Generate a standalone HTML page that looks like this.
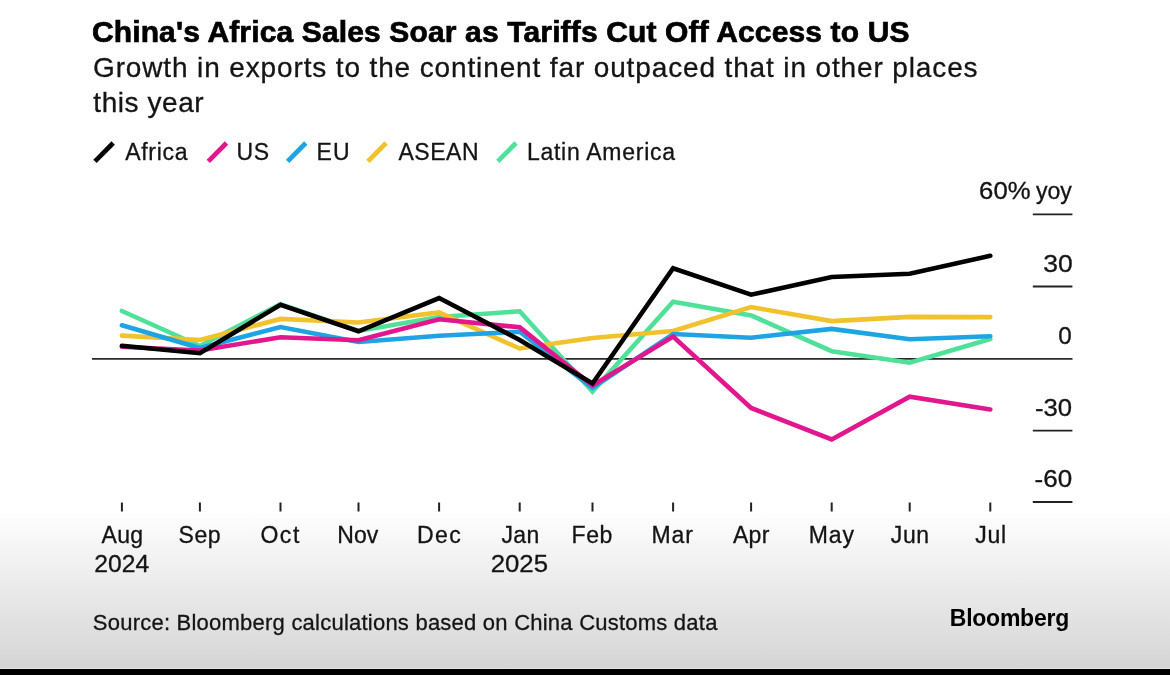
<!DOCTYPE html>
<html><head><meta charset="utf-8"><title>China's Africa Sales Soar as Tariffs Cut Off Access to US</title>
<style>
html,body{margin:0;padding:0;background:#fff;}
body{width:1170px;height:675px;overflow:hidden;position:relative;}
svg{display:block;position:absolute;left:0;top:0;}
text{font-family:"Liberation Sans",Arial,sans-serif;}
</style></head><body>
<svg width="1170" height="675" viewBox="0 0 1170 675">
<defs>
<linearGradient id="bg" x1="0" y1="0" x2="0" y2="1">
<stop offset="0" stop-color="#ffffff"/>
<stop offset="1" stop-color="#d5d5d5"/>
</linearGradient>
</defs>
<rect x="0" y="0" width="1170" height="675" fill="#fff"/>
<rect x="0" y="509" width="1170" height="159" fill="url(#bg)"/>
<rect x="0" y="668" width="1170" height="1" fill="#e3e3e3"/>
<rect x="0" y="669" width="1170" height="6" fill="#000"/>
<g stroke-width="4.7" stroke-linecap="butt"><line x1="95.0" y1="161.3" x2="113.2" y2="143.0" stroke="#000000"/><line x1="208.3" y1="161.3" x2="226.5" y2="143.0" stroke="#e2168d"/><line x1="287.6" y1="161.3" x2="305.8" y2="143.0" stroke="#1ea4e4"/><line x1="367.9" y1="161.3" x2="386.1" y2="143.0" stroke="#f1c22b"/><line x1="497.8" y1="161.3" x2="516.0" y2="143.0" stroke="#4fe09a"/></g>
<g stroke="#222" stroke-width="1.8"><line x1="1032.8" y1="214.3" x2="1072.4" y2="214.3"/><line x1="1032.8" y1="286.5" x2="1072.4" y2="286.5"/><line x1="1032.8" y1="430.6" x2="1072.4" y2="430.6"/><line x1="1032.8" y1="502.0" x2="1072.4" y2="502.0"/></g>
<line x1="92" y1="358.8" x2="1072.5" y2="358.8" stroke="#2a2a2a" stroke-width="1.8"/>
<g fill="none" stroke-width="4.6" stroke-linejoin="miter" stroke-linecap="round">
<polyline points="121.9,311.0 199.9,346.0 280.5,304.2 358.5,331.0 439.1,317.0 519.7,311.3 592.5,391.5 673.1,301.7 751.1,315.4 831.7,351.2 909.7,362.7 990.3,339.0" stroke="#4fe09a"/>
<polyline points="121.9,335.6 199.9,340.0 280.5,318.9 358.5,322.5 439.1,312.4 519.7,348.5 592.5,338.0 673.1,331.0 751.1,307.1 831.7,321.1 909.7,316.9 990.3,317.1" stroke="#f1c22b"/>
<polyline points="121.9,325.3 199.9,348.0 280.5,327.1 358.5,342.0 439.1,335.8 519.7,331.8 592.5,388.0 673.1,334.0 751.1,337.7 831.7,328.9 909.7,339.3 990.3,336.2" stroke="#1ea4e4"/>
<polyline points="121.9,346.8 199.9,350.5 280.5,337.2 358.5,340.2 439.1,319.3 519.7,327.3 592.5,385.5 673.1,336.6 751.1,408.0 831.7,439.5 909.7,396.7 990.3,409.5" stroke="#e2168d"/>
<polyline points="121.9,345.8 199.9,353.2 280.5,304.7 358.5,331.3 439.1,298.0 519.7,340.0 592.5,383.5 673.1,268.3 751.1,294.7 831.7,277.0 909.7,273.8 990.3,255.8" stroke="#000000"/>
</g>
<g stroke="#222" stroke-width="2"><line x1="121.9" y1="502.5" x2="121.9" y2="511.5"/><line x1="199.9" y1="502.5" x2="199.9" y2="511.5"/><line x1="280.5" y1="502.5" x2="280.5" y2="511.5"/><line x1="358.5" y1="502.5" x2="358.5" y2="511.5"/><line x1="439.1" y1="502.5" x2="439.1" y2="511.5"/><line x1="519.7" y1="502.5" x2="519.7" y2="511.5"/><line x1="592.5" y1="502.5" x2="592.5" y2="511.5"/><line x1="673.1" y1="502.5" x2="673.1" y2="511.5"/><line x1="751.1" y1="502.5" x2="751.1" y2="511.5"/><line x1="831.7" y1="502.5" x2="831.7" y2="511.5"/><line x1="909.7" y1="502.5" x2="909.7" y2="511.5"/><line x1="990.3" y1="502.5" x2="990.3" y2="511.5"/></g>
<text x="91.90" y="42.0" textLength="817.60" lengthAdjust="spacing" style="font-size:30px;font-weight:bold;fill:#000;stroke:#000;stroke-width:0.7px">China's Africa Sales Soar as Tariffs Cut Off Access to US</text>
<text x="93.00" y="77.1" textLength="884.60" lengthAdjust="spacing" style="font-size:28px;font-weight:normal;fill:#141414;stroke:#141414;stroke-width:0.3px">Growth in exports to the continent far outpaced that in other places</text>
<text x="93.30" y="111.7" textLength="110.40" lengthAdjust="spacing" style="font-size:28px;font-weight:normal;fill:#141414;stroke:#141414;stroke-width:0.3px">this year</text>
<text x="125.20" y="160.3" textLength="62.30" lengthAdjust="spacing" style="font-size:23px;font-weight:normal;fill:#141414;stroke:#141414;stroke-width:0.3px">Africa</text>
<text x="236.40" y="160.3" textLength="32.80" lengthAdjust="spacing" style="font-size:23px;font-weight:normal;fill:#141414;stroke:#141414;stroke-width:0.3px">US</text>
<text x="316.60" y="160.3" textLength="33.10" lengthAdjust="spacing" style="font-size:23px;font-weight:normal;fill:#141414;stroke:#141414;stroke-width:0.3px">EU</text>
<text x="398.50" y="160.3" textLength="80.10" lengthAdjust="spacing" style="font-size:23px;font-weight:normal;fill:#141414;stroke:#141414;stroke-width:0.3px">ASEAN</text>
<text x="526.90" y="160.3" textLength="148.10" lengthAdjust="spacing" style="font-size:23px;font-weight:normal;fill:#141414;stroke:#141414;stroke-width:0.3px">Latin America</text>
<text x="979.10" y="198.6" textLength="51.50" lengthAdjust="spacingAndGlyphs" style="font-size:23px;font-weight:normal;fill:#141414;stroke:#141414;stroke-width:0.3px">60%</text>
<text x="1036.00" y="198.6" textLength="35.90" lengthAdjust="spacingAndGlyphs" style="font-size:23px;font-weight:normal;fill:#141414;stroke:#141414;stroke-width:0.3px">yoy</text>
<text x="1043.30" y="271.9" textLength="29.50" lengthAdjust="spacingAndGlyphs" style="font-size:23px;font-weight:normal;fill:#141414;stroke:#141414;stroke-width:0.3px">30</text>
<text x="1058.30" y="343.5" textLength="13.50" lengthAdjust="spacingAndGlyphs" style="font-size:23px;font-weight:normal;fill:#141414;stroke:#141414;stroke-width:0.3px">0</text>
<text x="1035.00" y="415.6" textLength="37.10" lengthAdjust="spacingAndGlyphs" style="font-size:23px;font-weight:normal;fill:#141414;stroke:#141414;stroke-width:0.3px">-30</text>
<text x="1034.60" y="486.7" textLength="37.60" lengthAdjust="spacingAndGlyphs" style="font-size:23px;font-weight:normal;fill:#141414;stroke:#141414;stroke-width:0.3px">-60</text>
<text x="101.40" y="542.8" textLength="41.70" lengthAdjust="spacing" style="font-size:23px;font-weight:normal;fill:#141414;stroke:#141414;stroke-width:0.3px">Aug</text>
<text x="178.60" y="542.8" textLength="42.00" lengthAdjust="spacing" style="font-size:23px;font-weight:normal;fill:#141414;stroke:#141414;stroke-width:0.3px">Sep</text>
<text x="260.40" y="542.8" textLength="38.90" lengthAdjust="spacing" style="font-size:23px;font-weight:normal;fill:#141414;stroke:#141414;stroke-width:0.3px">Oct</text>
<text x="337.30" y="542.8" textLength="41.00" lengthAdjust="spacing" style="font-size:23px;font-weight:normal;fill:#141414;stroke:#141414;stroke-width:0.3px">Nov</text>
<text x="417.10" y="542.8" textLength="43.70" lengthAdjust="spacing" style="font-size:23px;font-weight:normal;fill:#141414;stroke:#141414;stroke-width:0.3px">Dec</text>
<text x="501.50" y="542.8" textLength="37.70" lengthAdjust="spacing" style="font-size:23px;font-weight:normal;fill:#141414;stroke:#141414;stroke-width:0.3px">Jan</text>
<text x="571.50" y="542.8" textLength="40.80" lengthAdjust="spacing" style="font-size:23px;font-weight:normal;fill:#141414;stroke:#141414;stroke-width:0.3px">Feb</text>
<text x="651.50" y="542.8" textLength="41.40" lengthAdjust="spacing" style="font-size:23px;font-weight:normal;fill:#141414;stroke:#141414;stroke-width:0.3px">Mar</text>
<text x="733.00" y="542.8" textLength="36.30" lengthAdjust="spacing" style="font-size:23px;font-weight:normal;fill:#141414;stroke:#141414;stroke-width:0.3px">Apr</text>
<text x="808.70" y="542.8" textLength="45.30" lengthAdjust="spacing" style="font-size:23px;font-weight:normal;fill:#141414;stroke:#141414;stroke-width:0.3px">May</text>
<text x="890.80" y="542.8" textLength="38.30" lengthAdjust="spacing" style="font-size:23px;font-weight:normal;fill:#141414;stroke:#141414;stroke-width:0.3px">Jun</text>
<text x="975.20" y="542.8" textLength="30.80" lengthAdjust="spacing" style="font-size:23px;font-weight:normal;fill:#141414;stroke:#141414;stroke-width:0.3px">Jul</text>
<text x="94.30" y="571.9" textLength="54.80" lengthAdjust="spacingAndGlyphs" style="font-size:23px;font-weight:normal;fill:#141414;stroke:#141414;stroke-width:0.3px">2024</text>
<text x="490.70" y="571.9" textLength="57.30" lengthAdjust="spacingAndGlyphs" style="font-size:23px;font-weight:normal;fill:#141414;stroke:#141414;stroke-width:0.3px">2025</text>
<text x="92.80" y="629.9" textLength="624.60" lengthAdjust="spacing" style="font-size:22px;font-weight:normal;fill:#141414;stroke:#141414;stroke-width:0.3px">Source: Bloomberg calculations based on China Customs data</text>
<text x="949.80" y="626.2" textLength="119.40" lengthAdjust="spacing" style="font-size:23px;font-weight:bold;fill:#000;stroke:#000;stroke-width:0.0px">Bloomberg</text>
</svg>
</body></html>
